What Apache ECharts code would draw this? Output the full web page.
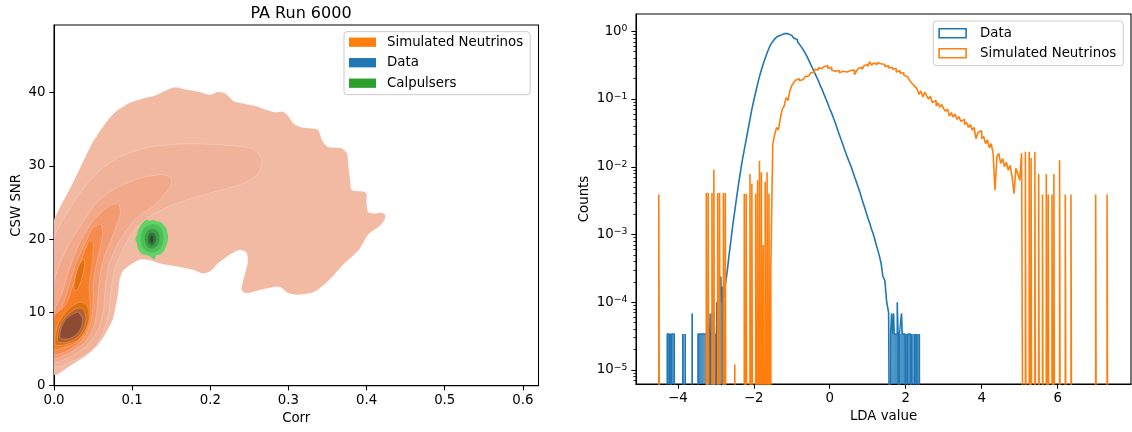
<!DOCTYPE html>
<html><head><meta charset="utf-8">
<script src="https://cdn.jsdelivr.net/npm/echarts@6/dist/echarts.min.js"></script>
<style>html,body{margin:0;padding:0;background:#fff}#c{width:1132px;height:432px}</style>
</head><body><div id="c"></div>
<script>
// ---------------- LEFT PANEL: KDE contour polygons (data coords: [Corr, CSW SNR]) ----------------
const simLevel1 = [[0,1.6],[0.022,2.8],[0.04,4.0],[0.054,5.3],[0.066,7.1],[0.075,9.0],[0.079,10.8],[0.082,12.6],[0.084,14.4],[0.088,15.6],[0.098,16.5],[0.111,17.2],[0.123,17.1],[0.134,16.7],[0.16,16.2],[0.178,15.8],[0.19,15.3],[0.2,15.6],[0.21,16.7],[0.224,17.8],[0.237,18.5],[0.246,18.2],[0.248,17.0],[0.245,15.5],[0.242,14.4],[0.24,13.1],[0.246,12.6],[0.265,13.1],[0.288,13.5],[0.30,12.6],[0.315,12.4],[0.333,12.8],[0.352,14.4],[0.37,16.5],[0.39,18.5],[0.402,20.6],[0.416,21.7],[0.423,22.6],[0.424,23.3],[0.419,23.6],[0.409,23.5],[0.402,23.7],[0.40,25.1],[0.40,26.3],[0.395,26.5],[0.381,26.7],[0.379,28.1],[0.377,29.9],[0.375,31.7],[0.368,32.4],[0.35,32.6],[0.343,33.5],[0.338,34.9],[0.329,35.1],[0.315,35.3],[0.306,35.8],[0.299,36.9],[0.292,37.4],[0.283,37.3],[0.272,37.6],[0.26,38.1],[0.242,38.5],[0.23,38.8],[0.224,39.4],[0.219,39.9],[0.21,40.1],[0.2,39.7],[0.185,40.1],[0.169,40.4],[0.155,40.7],[0.146,40.4],[0.132,39.7],[0.123,39.4],[0.111,39.1],[0.095,38.5],[0.077,37.2],[0.063,35.4],[0.049,33.1],[0.036,30.3],[0.022,27.2],[0.008,24.4],[0,22.4]];
const simLevel2 = [[0,2.8],[0.03,3.6],[0.05,5.0],[0.062,7.0],[0.07,10],[0.073,13],[0.078,16],[0.09,19],[0.105,21.5],[0.125,23.3],[0.16,25],[0.2,26.3],[0.24,27.5],[0.262,29],[0.265,31],[0.255,32.3],[0.22,32.8],[0.17,33],[0.12,32.5],[0.08,31],[0.05,28.5],[0.025,25],[0.008,22],[0,20]];
const simLevel3 = [[0,3.3],[0.025,4.2],[0.045,5.8],[0.058,8],[0.064,11],[0.066,14],[0.072,17],[0.085,20],[0.105,22.8],[0.13,24.8],[0.148,27],[0.15,28.3],[0.14,28.8],[0.11,28.3],[0.08,27],[0.055,25],[0.035,22],[0.018,19],[0.005,16],[0,14]];
const simLevel4 = [[0,3.8],[0.02,4.5],[0.04,6],[0.052,8.5],[0.056,11.5],[0.058,14.5],[0.064,17.5],[0.075,20.5],[0.085,23.5],[0.082,24.8],[0.07,24.5],[0.05,22.5],[0.033,19.5],[0.02,16],[0.01,12.5],[0,10]];
const simLevel5 = [[0,4.3],[0.02,4.9],[0.037,6.3],[0.047,8.5],[0.05,11],[0.05,14],[0.055,17],[0.062,20.5],[0.06,22],[0.05,21.5],[0.038,19],[0.026,16],[0.016,12.5],[0.006,9.5],[0,8]];
const simLevel6 = [[0,5],[0.015,5.3],[0.03,6],[0.042,7.5],[0.047,9.5],[0.046,11.5],[0.045,13.5],[0.049,17],[0.05,19.5],[0.045,19.8],[0.038,18],[0.03,15.5],[0.022,13],[0.016,11.2],[0.008,10.3],[0,9.5]];
const simLevel7a = [[0.002,5.6],[0.015,5.6],[0.03,6.2],[0.04,7.5],[0.045,9.2],[0.043,10.8],[0.035,11.4],[0.025,11],[0.015,10],[0.006,8.6],[0.002,7]];
const simLevel7b = [[0.026,13],[0.031,13.3],[0.036,14.8],[0.039,16.5],[0.038,17.2],[0.034,16.8],[0.029,15.5],[0.026,14]];
const simLevel8 = [[0.005,6.0],[0.016,5.9],[0.03,6.6],[0.038,7.8],[0.041,9.3],[0.037,10.5],[0.028,10.5],[0.018,9.7],[0.009,8.5],[0.005,7.0]];
const simLevel9 = [[0.008,6.5],[0.018,6.4],[0.029,7.0],[0.035,8.0],[0.036,9.3],[0.031,10.0],[0.023,9.7],[0.015,9.0],[0.009,7.8]];

const dataLevel1 = [[0.0155,10.1],[0.018,9.6],[0.0198,8.5],[0.0198,7.2],[0.018,6.1],[0.0155,5.7],[0.013,6.1],[0.0112,7.2],[0.0112,8.5],[0.013,9.6]];
const dataLevel2 = [[0.0155,9.3],[0.0175,8.6],[0.018,7.6],[0.0175,6.7],[0.0155,6.3],[0.0135,6.7],[0.013,7.6],[0.0135,8.6]];
const dataLevel3 = [[0.0155,8.5],[0.0165,8.0],[0.0165,7.3],[0.0155,6.9],[0.0145,7.3],[0.0145,8.0]];

const calLevel1 = [[0.146,20.2],[0.145,21.0],[0.143,21.6],[0.140,22.0],[0.137,22.3],[0.132,22.4],[0.128,22.6],[0.123,22.5],[0.118,22.6],[0.113,22.2],[0.110,21.7],[0.107,21.0],[0.106,20.5],[0.104,20.0],[0.106,19.4],[0.107,18.8],[0.110,18.2],[0.114,17.9],[0.119,17.8],[0.124,17.6],[0.128,17.2],[0.131,17.8],[0.136,17.9],[0.140,18.3],[0.143,18.9],[0.145,19.5]];
const calLevel2 = [[0.140,20.1],[0.139,21.0],[0.135,21.7],[0.129,22.0],[0.122,21.9],[0.116,21.6],[0.112,20.8],[0.111,20.0],[0.112,19.2],[0.116,18.6],[0.122,18.2],[0.129,18.2],[0.135,18.6],[0.139,19.3]];
const calLevel3 = [[0.135,20.0],[0.134,20.8],[0.130,21.3],[0.124,21.4],[0.119,21.0],[0.116,20.3],[0.117,19.5],[0.120,18.9],[0.126,18.7],[0.131,19.0],[0.134,19.5]];
const calLevel4 = [[0.131,20.0],[0.129,20.7],[0.125,20.9],[0.121,20.6],[0.120,20.0],[0.121,19.4],[0.125,19.1],[0.129,19.4]];
const calLevel5 = [[0.1275,20.0],[0.1265,20.4],[0.1245,20.5],[0.1228,20.2],[0.1228,19.8],[0.1245,19.5],[0.1265,19.6]];

// ---------------- RIGHT PANEL: histograms (normalised counts) ----------------
const dataBodyStart = -2.80, dataBodyWidth = 0.05;
const dataBodyCounts = [1.12e-4,1.78e-4,2.8e-4,5.0e-4,8.3e-4,1.41e-3,2.24e-3,3.55e-3,5.6e-3,8.5e-3,0.0126,0.0178,0.0251,0.0355,0.050,0.071,0.095,0.126,0.166,0.214,0.269,0.331,0.398,0.479,0.562,0.646,0.708,0.767,0.822,0.871,0.902,0.923,0.933,0.923,0.902,0.871,0.832,0.794,0.75,0.70,0.646,0.589,0.537,0.479,0.427,0.372,0.324,0.282,0.245,0.214,0.186,0.158,0.138,0.117,0.100,0.085,0.072,0.062,0.052,0.044,0.036,0.030,0.025,0.021,0.0174,0.0145,0.0123,0.0105,0.0087,0.0072,0.0060,0.0050,0.0041,0.0033,0.0027,0.0022,0.00178,0.00148,0.0012,0.0010,0.00079,0.00063,0.0005,0.00038,0.00024,0.00021,0.000100,0.00007];
const dataTailWidth = 0.025;
const dataTailBins = [[-4.28,3.4e-5],[-4.255,3.4e-5],[-4.23,3.4e-5],[-4.205,3.4e-5],[-4.165,3.4e-5],[-4.14,3.4e-5],[-4.115,3.4e-5],[-3.87,3.4e-5],[-3.81,3.4e-5],[-3.625,6.8e-5],
  [-3.47,3.4e-5],[-3.445,3.4e-5],[-3.42,3.4e-5],[-3.395,3.4e-5],[-3.37,3.4e-5],[-3.345,3.4e-5],[-3.32,3.4e-5],[-3.295,3.4e-5],[-3.27,3.4e-5],[-3.245,3.4e-5],
  [-3.19,6.8e-5],[-3.165,3.4e-5],[-3.13,6.8e-5],[-3.105,3.4e-5],[-3.05,6.8e-5],[-3.025,3.4e-5],[-2.975,1.0e-4],[-2.95,6.8e-5],[-2.925,3.4e-5],[-2.90,1.4e-4],[-2.875,2.4e-4],[-2.85,1.0e-4],[-2.825,1.7e-4],
  [1.60,3.4e-5],[1.625,6.8e-5],[1.65,3.4e-5],[1.675,6.8e-5],[1.70,3.4e-5],[1.725,3.4e-5],[1.75,3.4e-5],[1.775,1.0e-4],[1.80,3.4e-5],
  [1.835,3.4e-5],[1.86,3.4e-5],[1.885,6.8e-5],[1.91,3.4e-5],[1.935,3.4e-5],[1.96,3.4e-5],[1.985,3.4e-5],[2.01,3.4e-5],
  [2.05,3.4e-5],[2.075,3.4e-5],[2.10,3.4e-5],[2.15,3.4e-5],[2.175,3.4e-5],[2.22,3.4e-5],[2.245,3.4e-5],[2.29,3.4e-5],[2.315,3.4e-5],[2.355,3.4e-5]];

const simBodyStart = -1.55, simBodyWidth = 0.05;
const simBodyCounts = [3.5e-4,0.0214,0.030,0.038,0.035,0.052,0.071,0.079,0.105,0.095,0.132,0.158,0.174,0.19,0.20,0.186,0.195,0.204,0.214,0.219,0.229,0.245,0.251,0.275,0.269,0.288,0.282,0.269,0.302,0.309,0.282,0.295,0.269,0.257,0.275,0.263,0.245,0.257,0.263,0.251,0.24,0.263,0.251,0.269,0.229,0.257,0.282,0.295,0.275,0.309,0.324,0.302,0.355,0.316,0.339,0.324,0.347,0.331,0.316,0.324,0.302,0.309,0.288,0.295,0.275,0.282,0.251,0.263,0.24,0.245,0.224,0.214,0.20,0.19,0.174,0.162,0.151,0.141,0.117,0.132,0.107,0.126,0.112,0.10,0.11,0.089,0.095,0.079,0.087,0.076,0.083,0.072,0.066,0.071,0.056,0.063,0.054,0.060,0.050,0.055,0.047,0.050,0.042,0.045,0.038,0.042,0.035,0.038,0.026,0.032,0.034,0.026,0.028,0.022,0.025,0.019,0.022,0.0158,0.0045,0.0141,0.0158,0.0112,0.0132,0.010,0.0117,0.0089,0.0105,0.0071,0.0040,0.0095,0.0079,0.0063,0.0158];
const simSpikeWidth = 0.025;
const simSpikeBins = [[-4.50,0.0039],[-3.25,0.0041],[-3.20,0.0041],[-3.10,0.0041],[-3.05,0.0090],[-2.95,0.0041],[-2.90,0.0041],[-2.80,0.0041],[-2.75,0.0041],[-2.50,1.2e-5],[-2.25,0.0040],[-2.20,0.0040],[-2.10,0.0078],[-2.05,0.0056],[-1.95,0.0040],[-1.90,0.0063],[-1.85,0.0123],[-1.80,0.0083],[-1.75,0.0007],[-1.70,0.0060],[-1.65,0.0083],[-1.60,0.0040],
  [5.15,0.0166],[5.25,0.0166],[5.30,0.0135],[5.40,0.0166],[5.50,0.0078],[5.60,0.0039],[5.70,0.0078],[5.75,0.0039],[5.85,0.0039],[5.90,0.0078],[6.05,0.0125],[6.20,0.0039],[6.35,0.0039],[7.00,0.0039],[7.30,0.0039]];

const leftXTicks = [0,0.1,0.2,0.3,0.4,0.5,0.6];
const leftYTicks = [0,10,20,30,40];
const rightXTicks = [-4,-2,0,2,4,6];
const rightYMajor = [1e-5,1e-4,1e-3,1e-2,1e-1,1];
const rightYMinor = [];
[1e-6,1e-5,1e-4,1e-3,1e-2,1e-1,1].forEach(d => { for (let k = 2; k <= 9; k++) rightYMinor.push(+(k*d).toPrecision(3)); });

// ---------------- styles ----------------
const FONT = 'DejaVu Sans';
const C_ORANGE = '#ff7f0e', C_BLUE = '#1f77b4', C_GREEN = '#2ca02c';
const simColors = ['#f2b9a3','#f1b29a','#f2a88a','#f49a70','#f68b52','#f57e26','#e06f10','#b8612d','#8d4b34'];
const dataColors = ['#9fc4e6','#5f9bd0','#3572aa'];
const calColors = ['#62d168','#4dbd55','#3c9f47','#33773b','#2b4f2f'];
const R_YMIN = 6.21e-6, R_YMAX = 1.8;
const FLOOR = 1e-9;   // stands for an empty bin (below the log axis)
const BREAK = ['-', '-'];

function binsToStep(bins) {
  const pts = [];
  for (let i = 0; i < bins.length; i++) {
    const [l, r, v] = bins[i];
    const prev = bins[i-1], next = bins[i+1];
    if (!prev || Math.abs(prev[1] - l) > 1e-6) { if (pts.length) pts.push(BREAK); pts.push([l, FLOOR]); }
    pts.push([l, v]);
    pts.push([r, v]);
    if (!next || Math.abs(next[0] - r) > 1e-6) pts.push([r, FLOOR]);
  }
  return pts;
}
function toBins(start, width, counts) {
  return counts.map((v, i) => { const l = +(start + i*width).toFixed(4); return [l, +(l+width).toFixed(4), v]; });
}
function spikesToBins(spikes, width) {
  return spikes.map(([l, v]) => [l, +(l+width).toFixed(4), v]).sort((a, c) => a[0] - c[0]);
}
const dataBodyStep = binsToStep(toBins(dataBodyStart, dataBodyWidth, dataBodyCounts));
const dataTailStep = binsToStep(spikesToBins(dataTailBins, dataTailWidth));
const simStep = binsToStep(toBins(simBodyStart, simBodyWidth, simBodyCounts).concat(spikesToBins(simSpikeBins, simSpikeWidth)).sort((a, c) => a[0] - c[0]));

function polySeries(name, levels, colors, legendColor, edge) {
  return {
    type: 'custom', name, xAxisIndex: 0, yAxisIndex: 0, silent: true, clip: true,
    itemStyle: { color: legendColor },
    data: levels.map((lv, i) => [lv[0][0], lv[0][1], i]),
    encode: { x: 0, y: 1 },
    renderItem: (params, api) => {
      const i = params.dataIndex;
      return {
        type: 'polygon', z2: i,
        shape: { points: levels[i].map(p => api.coord(p)), smooth: 0.25 },
        style: { fill: colors[i], stroke: edge, lineWidth: edge ? 0.6 : 0 }
      };
    }
  };
}

const tickStyle = { lineStyle: { color: '#000', width: 1.07 }, length: 4.7, inside: false };
const lblStyle = { color: '#000', fontSize: 13.33, fontFamily: FONT };
const nameStyle = { color: '#000', fontSize: 13.33, fontFamily: FONT };
const axLine = { onZero: false, lineStyle: { color: '#000', width: 1.07 } };
const minus = s => String(s).replace('-', '\u2212');

const chart = echarts.init(document.getElementById('c'), null, { renderer: 'canvas' });
chart.setOption({
  animation: false,
  backgroundColor: '#fff',
  textStyle: { fontFamily: FONT },
  title: { text: 'PA Run 6000', left: 296, textAlign: 'center', top: 1,
    textStyle: { fontFamily: FONT, fontSize: 16, fontWeight: 'normal', color: '#000' } },
  grid: [
    { left: 54, top: 25, width: 484.5, height: 360.7, show: true, borderColor: '#000', borderWidth: 1.07, containLabel: false },
    { left: 636, top: 14, width: 495, height: 370, show: true, borderColor: '#000', borderWidth: 1.07, containLabel: false }
  ],
  xAxis: [
    { type: 'value', gridIndex: 0, min: 0, max: 0.62, name: 'Corr', nameLocation: 'middle', nameGap: 26, nameTextStyle: nameStyle,
      axisLine: axLine, splitLine: { show: false },
      axisTick: Object.assign({ customValues: leftXTicks }, tickStyle),
      axisLabel: Object.assign({ customValues: leftXTicks, margin: 8.5, formatter: v => v.toFixed(1) }, lblStyle) },
    { type: 'value', gridIndex: 1, min: -5.1, max: 7.93, name: 'LDA value', nameLocation: 'middle', nameGap: 26, nameTextStyle: nameStyle,
      axisLine: axLine, splitLine: { show: false },
      axisTick: Object.assign({ customValues: rightXTicks }, tickStyle),
      axisLabel: Object.assign({ customValues: rightXTicks, margin: 8.5, formatter: v => minus(Math.round(v)) }, lblStyle) }
  ],
  yAxis: [
    { type: 'value', gridIndex: 0, min: 0, max: 49.2, name: 'CSW SNR', nameLocation: 'middle', nameGap: 31, nameTextStyle: nameStyle,
      axisLine: axLine, splitLine: { show: false },
      axisTick: Object.assign({ customValues: leftYTicks }, tickStyle),
      axisLabel: Object.assign({ customValues: leftYTicks, margin: 8.5 }, lblStyle) },
    { type: 'log', logBase: 10, gridIndex: 1, position: 'left', min: R_YMIN, max: R_YMAX, name: 'Counts', nameLocation: 'middle', nameGap: 45, nameTextStyle: nameStyle,
      axisLine: axLine, splitLine: { show: false }, minorTick: { show: false },
      axisTick: Object.assign({ customValues: rightYMajor }, tickStyle),
      axisLabel: { customValues: rightYMajor, margin: 8.5,
        formatter: v => { const e = Math.round(Math.log10(v)); return '{b|10}{s|' + minus(e) + '}'; },
        rich: { b: { fontSize: 13.33, fontFamily: FONT, color: '#000' },
                s: { fontSize: 9.3, fontFamily: FONT, color: '#000', verticalAlign: 'top', padding: [0, 0, 5, 0] } } } },
    { type: 'log', logBase: 10, gridIndex: 1, position: 'left', offset: 0, min: R_YMIN, max: R_YMAX,
      axisLine: { show: false, onZero: false }, splitLine: { show: false }, axisLabel: { show: false },
      axisTick: { customValues: rightYMinor, length: 2.7, lineStyle: { color: '#000', width: 0.8 } } }
  ],
  legend: [
    { orient: 'vertical', left: 344, top: 31.7, padding: [3, 7, 4, 5], itemGap: 5.5, itemWidth: 27, itemHeight: 9.3,
      selectedMode: false, backgroundColor: 'rgba(255,255,255,0.8)', borderColor: '#cccccc', borderWidth: 1, borderRadius: 3,
      textStyle: { fontFamily: FONT, fontSize: 13.33, color: '#000', lineHeight: 15, padding: [0, 0, 0, 6] },
      data: [ { name: 'Simulated Neutrinos', icon: 'rect', itemStyle: { color: C_ORANGE, borderWidth: 0 } },
              { name: 'Data', icon: 'rect', itemStyle: { color: C_BLUE, borderWidth: 0 } },
              { name: 'Calpulsers', icon: 'rect', itemStyle: { color: C_GREEN, borderWidth: 0 } } ] },
    { orient: 'vertical', left: 933.3, top: 21, padding: [4.8, 7, 4.8, 5], itemGap: 5, itemWidth: 27, itemHeight: 9,
      selectedMode: false, backgroundColor: 'rgba(255,255,255,0.8)', borderColor: '#cccccc', borderWidth: 1, borderRadius: 3,
      textStyle: { fontFamily: FONT, fontSize: 13.33, color: '#000', lineHeight: 15, padding: [0, 0, 0, 9] },
      data: [ { name: 'Data', icon: 'rect', itemStyle: { color: 'rgba(0,0,0,0)', borderColor: C_BLUE, borderWidth: 1.6 } },
              { name: 'Simulated Neutrinos', icon: 'rect', itemStyle: { color: 'rgba(0,0,0,0)', borderColor: C_ORANGE, borderWidth: 1.6 } } ] }
  ],
  series: [
    polySeries('Simulated Neutrinos', [simLevel1, simLevel2, simLevel3, simLevel4, simLevel5, simLevel6, simLevel7a, simLevel8, simLevel9, simLevel7b],
      simColors.slice(0,7).concat([simColors[7], simColors[8], simColors[6]]), C_ORANGE, 'rgba(255,255,255,0.35)'),
    polySeries('Data', [dataLevel1, dataLevel2, dataLevel3], dataColors, C_BLUE, 'rgba(255,255,255,0.6)'),
    polySeries('Calpulsers', [calLevel1, calLevel2, calLevel3, calLevel4, calLevel5], calColors, C_GREEN, null),
    { type: 'line', name: 'Data', xAxisIndex: 1, yAxisIndex: 1, data: dataBodyStep, showSymbol: false, symbol: 'none', clip: true, silent: true,
      connectNulls: false, itemStyle: { color: C_BLUE }, lineStyle: { color: C_BLUE, width: 1.6 } },
    { type: 'custom', name: 'Data', xAxisIndex: 1, yAxisIndex: 1, clip: true, silent: true,
      itemStyle: { color: C_BLUE },
      data: dataTailBins, encode: { x: 0, y: 1 },
      renderItem: (params, api) => {
        const l = api.value(0), v = api.value(1);
        const a = api.coord([l, v]), b = api.coord([l + dataTailWidth, R_YMIN]);
        return { type: 'rect', shape: { x: a[0], y: a[1], width: b[0] - a[0], height: b[1] - a[1] }, style: { fill: C_BLUE } };
      } },
    { type: 'line', name: 'Data', xAxisIndex: 1, yAxisIndex: 1, data: dataTailStep, showSymbol: false, symbol: 'none', clip: true, silent: true,
      connectNulls: false, itemStyle: { color: C_BLUE }, lineStyle: { color: C_BLUE, width: 1.4 } },
    { type: 'line', name: 'Simulated Neutrinos', xAxisIndex: 1, yAxisIndex: 1, data: simStep, showSymbol: false, symbol: 'none', clip: true, silent: true,
      connectNulls: false, itemStyle: { color: C_ORANGE }, lineStyle: { color: C_ORANGE, width: 1.6 } }
  ]
});
</script></body></html>
